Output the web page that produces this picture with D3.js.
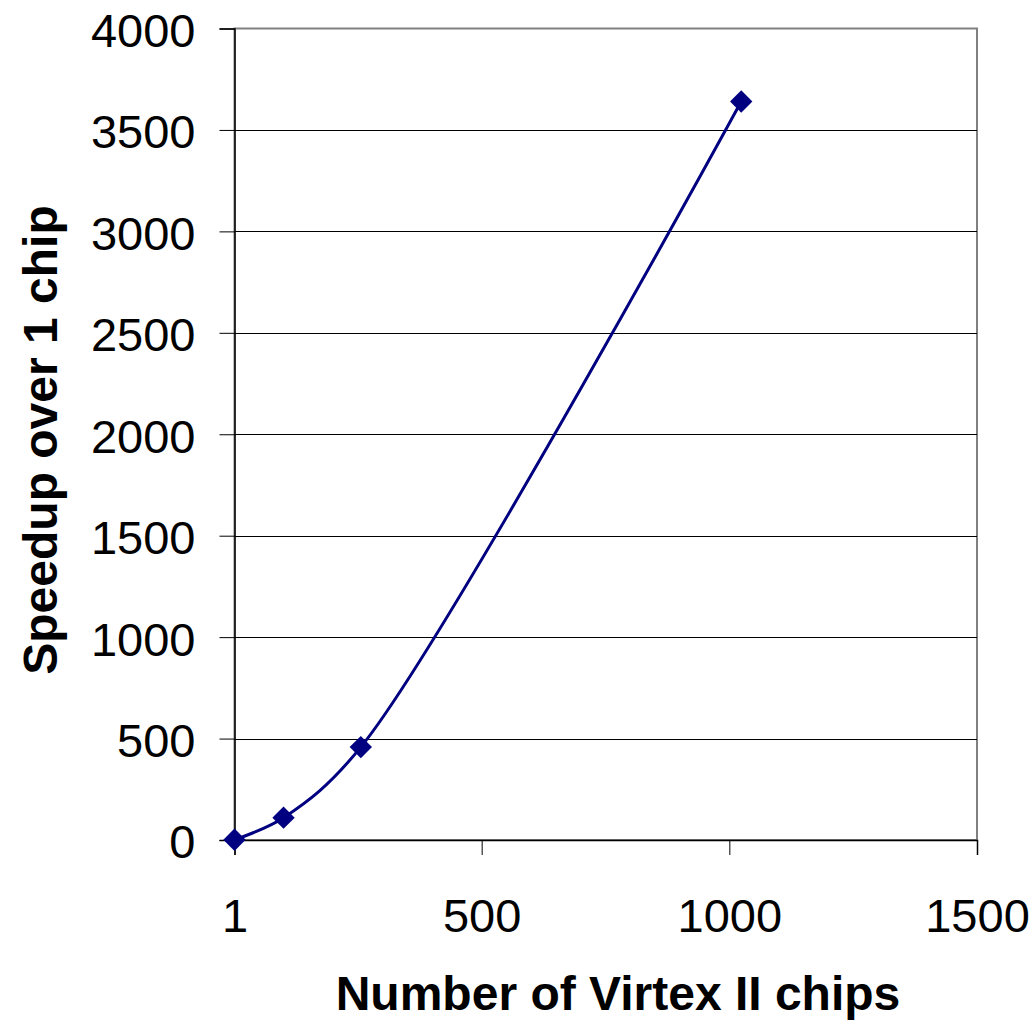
<!DOCTYPE html>
<html>
<head>
<meta charset="utf-8">
<script src="https://cdn.jsdelivr.net/npm/d3@7"></script>
<style>
  html, body { margin: 0; padding: 0; background: #ffffff; }
  svg { display: block; }
  text { font-family: "Liberation Sans", Arial, sans-serif; fill: #000; }
</style>
</head>
<body>
<svg id="chart" width="1034" height="1023"></svg>
<script>
// Measured speedup relative to a single chip
const chips = [1, 100, 256, 1024];
const speedup = [1, 110, 458, 3640];

const xTicks = [1, 500, 1000, 1500];
const yTicks = [0, 500, 1000, 1500, 2000, 2500, 3000, 3500, 4000];

const xTitle = "Number of Virtex II chips";
const yTitle = "Speedup over 1 chip";

const W = 1034, H = 1023;
const plot = { left: 234.5, right: 977, top: 28.5, bottom: 840 };

const svg = d3.select("#chart");

const x = d3.scaleLinear().domain([1, 1500]).range([plot.left, plot.right]);
const y = d3.scaleLinear().domain([0, 4000]).range([plot.bottom, plot.top]);

// plot area frame
svg.append("rect")
  .attr("x", plot.left).attr("y", plot.top)
  .attr("width", plot.right - plot.left)
  .attr("height", plot.bottom - plot.top)
  .attr("fill", "none")
  .attr("stroke", "#808080")
  .attr("stroke-width", 2);

// horizontal gridlines
svg.append("g")
  .selectAll("line")
  .data(yTicks.filter(d => d > 0 && d < 4000))
  .join("line")
  .attr("x1", plot.left).attr("x2", plot.right)
  .attr("y1", d => Math.round(y(d)) + 0.5)
  .attr("y2", d => Math.round(y(d)) + 0.5)
  .attr("stroke", "#000")
  .attr("stroke-width", 1);

// y axis
const yAxis = svg.append("g")
  .attr("transform", `translate(${plot.left},0)`)
  .call(d3.axisLeft(y).tickValues(yTicks).tickSize(15).tickPadding(24).tickFormat(d3.format("d")));
yAxis.select(".domain").attr("stroke", "#000").attr("stroke-width", 1.5);
yAxis.selectAll(".tick line").attr("stroke", "#000");
yAxis.selectAll(".tick text")
  .style("font-size", "47px")
  .attr("dy", "0.38em")
  .attr("font-family", "Liberation Sans, Arial, sans-serif");

// x axis
const xAxis = svg.append("g")
  .attr("transform", `translate(0,${plot.bottom})`)
  .call(d3.axisBottom(x).tickValues(xTicks).tickSize(15).tickPadding(44).tickFormat(d3.format("d")));
xAxis.select(".domain").attr("stroke", "#000").attr("stroke-width", 1.5);
xAxis.selectAll(".tick line").attr("stroke", "#000");
xAxis.selectAll(".tick text")
  .style("font-size", "47px")
  .attr("font-family", "Liberation Sans, Arial, sans-serif");

// smoothed series line
const pts = chips.map((c, i) => [c, speedup[i]]);
const line = d3.line()
  .x(d => x(d[0]))
  .y(d => y(d[1]))
  .curve(d3.curveCatmullRom.alpha(0.5));

svg.append("path")
  .datum(pts)
  .attr("d", line)
  .attr("fill", "none")
  .attr("stroke", "#000080")
  .attr("stroke-width", 3);

// diamond markers
const diamond = d3.symbol().type(d3.symbolSquare).size(250);
svg.append("g")
  .selectAll("path")
  .data(pts)
  .join("path")
  .attr("d", diamond)
  .attr("transform", d => `translate(${x(d[0])},${y(d[1])}) rotate(45)`)
  .attr("fill", "#000080");

// axis titles
svg.append("text")
  .attr("x", 618).attr("y", 1010)
  .attr("text-anchor", "middle")
  .style("font-size", "48px")
  .style("font-weight", "bold")
  .text(xTitle);

svg.append("text")
  .attr("transform", "translate(57,440) rotate(-90)")
  .attr("text-anchor", "middle")
  .style("font-size", "48px")
  .style("font-weight", "bold")
  .text(yTitle);
</script>
</body>
</html>
